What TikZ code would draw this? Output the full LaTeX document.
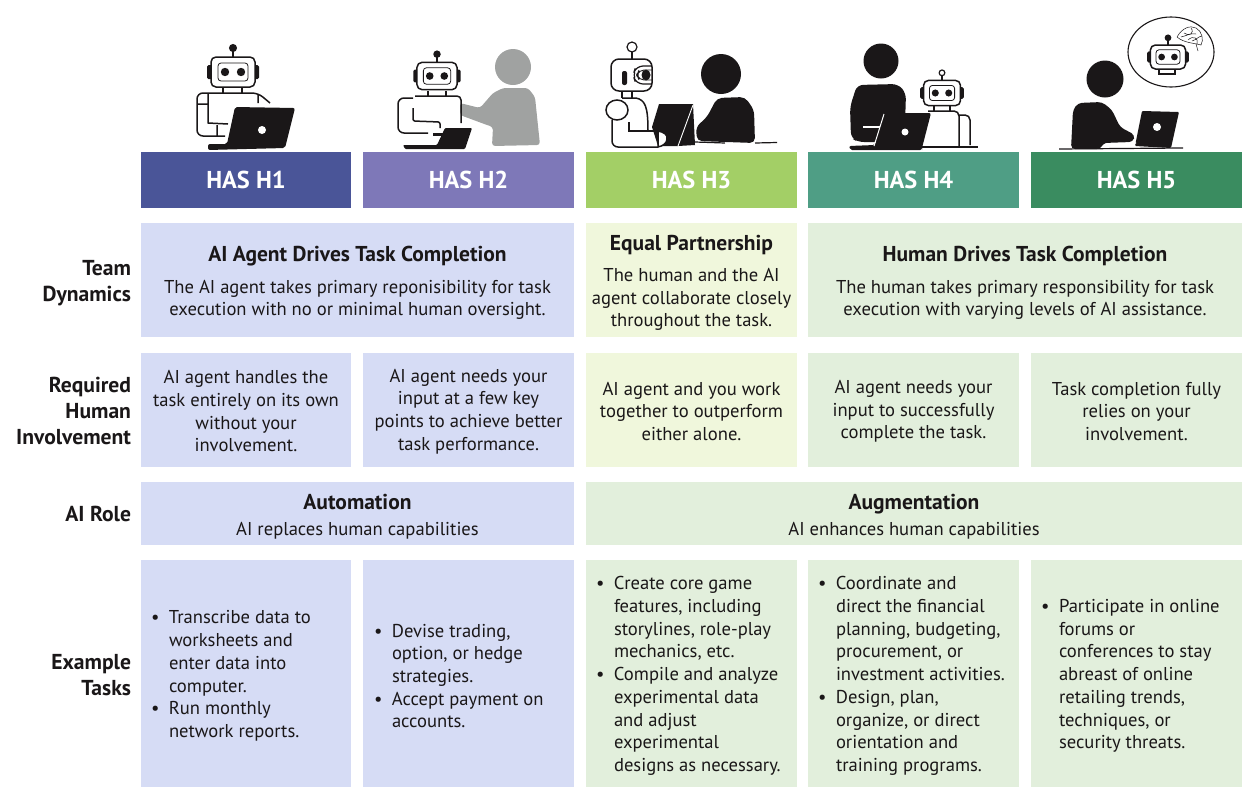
\documentclass[tikz,border=0pt]{standalone}
\usepackage{fontspec}
\setmainfont{PT Sans}
\usetikzlibrary{positioning}
\definecolor{hone}{HTML}{4A5598}
\definecolor{htwo}{HTML}{7E78B8}
\definecolor{hthree}{HTML}{A3CF66}
\definecolor{hfour}{HTML}{4F9E85}
\definecolor{hfive}{HTML}{3A8C60}
\definecolor{lavcell}{HTML}{D6DCF5}
\definecolor{limecell}{HTML}{F0F7DC}
\definecolor{greencell}{HTML}{E2EFDC}
\definecolor{ink}{HTML}{1A1718}
\definecolor{humangray}{HTML}{A0A2A1}
\tikzset{
    every node/.style={inner sep=0pt,outer sep=0pt,text=ink},
    box/.style={minimum width=#1,align=center,font=\fontsize{18.6}{22.7}\selectfont},
    hasbox/.style={minimum width=211,minimum height=56,fill=#1,text=white,
        font=\fontsize{24.4}{26}\selectfont\bfseries},
    rowname/.style={anchor=east,align=right,font=\fontsize{21.6}{26}\selectfont\bfseries},
    tasktext/.style={align=left,yshift=-2.5pt,font=\fontsize{18.6}{22.7}\selectfont},
    robot/.style={draw=ink,line width=1.5,fill=white,line join=round},
    robot head/.pic={
        \draw[ink,line width=1.5] (0,-15) -- (0,-21);
        \fill[ink,rounded corners=1.5] (-26,-7) rectangle (-20,7);
        \fill[ink,rounded corners=1.5] (20,-7) rectangle (26,7);
        \draw[robot,rounded corners=5] (-22,-15) rectangle (22,15);
        \draw[ink,line width=.8,rounded corners=3] (-15,-9) rectangle (15,9);
        \fill[ink] (-8,0) circle (4.2) (8,0) circle (4.2);
        \draw[ink,line width=1.2,fill=#1] (0,-24) circle (3.4);
    },
}
\newcommand{\bul}{\makebox[18pt][l]{\textbullet}}
\newcommand{\hang}{\hspace*{18pt}}
\newcommand{\hd}[1]{\rule{0pt}{21.5pt}{\fontsize{21.5}{24}\selectfont\bfseries #1}}
\newcommand{\nudge}{\rule{0pt}{16pt}}

\begin{document}
\begin{tikzpicture}[x=1pt,y=-1pt]
        \useasboundingbox (0,0) rectangle (1260,804);

        \node[hasbox=hone,minimum width=210] (hasone) at (246,180) {HAS H1};
        \node[hasbox=htwo] (hastwo) at (468.5,180) {HAS H2};
        \node[hasbox=hthree] (hasthree) at (691.5,180) {HAS H3};
        \node[hasbox=hfour] (hasfour) at (913.5,180) {HAS H4};
        \node[hasbox=hfive] (hasfive) at (1136.5,180) {HAS H5};

        \node[box=433,minimum height=114,fill=lavcell] (dynauto) at (357.5,280)
            {\hd{AI Agent Drives Task Completion}\\[9pt]The AI agent takes primary reponisibility for task\\execution with no or minimal human oversight.};
        \node[box=211,minimum height=114,fill=limecell] (dynequal) at (691.5,280)
            {\hd{Equal Partnership}\\[8pt]The human and the AI\\agent collaborate closely\\throughout the task.};
        \node[box=434,minimum height=114,fill=greencell] (dynhuman) at (1025,280)
            {\hd{Human Drives Task Completion}\\[9pt]The human takes primary responsibility for task\\execution with varying levels of AI assistance.};

        \node[box=210,minimum height=114,fill=lavcell] (involveone) at (246,410)
            {\nudge AI agent handles the\\task entirely on its own\\without your\\involvement.};
        \node[box=211,minimum height=114,fill=lavcell] (involvetwo) at (468.5,410)
            {\nudge AI agent needs your\\input at a few key\\points to achieve better\\task performance.};
        \node[box=211,minimum height=114,fill=limecell] (involvethree) at (691.5,410)
            {\nudge AI agent and you work\\together to outperform\\either alone.};
        \node[box=211,minimum height=114,fill=greencell] (involvefour) at (913.5,410)
            {\nudge AI agent needs your\\input to successfully\\complete the task.};
        \node[box=211,minimum height=114,fill=greencell] (involvefive) at (1136.5,410)
            {\nudge Task completion fully\\relies on your\\involvement.};

        \node[box=433,minimum height=63,fill=lavcell] (roleauto) at (357.5,513.5)
            {\hd{Automation}\\[4pt]AI replaces human capabilities};
        \node[box=656,minimum height=63,fill=greencell] (roleaug) at (914,513.5)
            {\hd{Augmentation}\\[4pt]AI enhances human capabilities};

        \node[box=210,minimum height=227,fill=lavcell] (taskone) at (246,673.5) {};
        \node[box=211,minimum height=227,fill=lavcell] (tasktwo) at (468.5,673.5) {};
        \node[box=211,minimum height=227,fill=greencell] (taskthree) at (691.5,673.5) {};
        \node[box=211,minimum height=227,fill=greencell] (taskfour) at (913.5,673.5) {};
        \node[box=211,minimum height=227,fill=greencell] (taskfive) at (1136.5,673.5) {};

        \node[tasktext,right=10pt of taskone.west] (listone)
            {\bul Transcribe data to\\\hang worksheets and\\\hang enter data into\\\hang computer.\\\bul Run monthly\\\hang network reports.};
        \node[tasktext,right=11pt of tasktwo.west] (listtwo)
            {\bul Devise trading,\\\hang option, or hedge\\\hang strategies.\\\bul Accept payment on\\\hang accounts.};
        \node[tasktext,right=10pt of taskthree.west] (listthree)
            {\bul Create core game\\\hang features, including\\\hang storylines, role-play\\\hang mechanics, etc.\\\bul Compile and analyze\\\hang experimental data\\\hang and adjust\\\hang experimental\\\hang designs as necessary.};
        \node[tasktext,right=10pt of taskfour.west] (listfour)
            {\bul Coordinate and\\\hang direct the financial\\\hang planning, budgeting,\\\hang procurement, or\\\hang investment activities.\\\bul Design, plan,\\\hang organize, or direct\\\hang orientation and\\\hang training programs.};
        \node[tasktext,right=10pt of taskfive.west] (listfive)
            {\bul Participate in online\\\hang forums or\\\hang conferences to stay\\\hang abreast of online\\\hang retailing trends,\\\hang techniques, or\\\hang security threats.};

        \node[rowname] (rowdyn) at (131,283) {Team\\Dynamics};
        \node[rowname] (rowinv) at (131,411) {Required\\Human\\Involvement};
        \node[rowname] (rowrole) at (131,514) {AI Role};
        \node[rowname] (rowtask) at (131,675) {Example\\Tasks};

        % HAS H1
        \draw[ink,line width=1.5,line join=round] (208,93) -- (208,123) -- (228,124) (217,125) -- (217,136) (197,104) -- (208,104) (258,94) -- (258,103);
        \draw[ink,line width=1.5,rounded corners=6] (225,136) -- (197,136) -- (197,93) -- (258,93) -- (270,103);
        \draw[ink,line width=1.5] (223,87) -- (223,93) (242,87) -- (242,93);
        \pic at (233,72) {robot head=ink};
        \fill[ink,rounded corners=2] (235,107) -- (295,108) -- (285,148) -- (208,150) -- (208,144) -- (227,144) -- cycle;
        \fill[white] (262,130) circle (4);

        % HAS H2
        \fill[humangray] (513,67) circle (18);
        \fill[humangray,rounded corners=3] (503,88) -- (528,88) -- (535,97) -- (540,145) -- (492,146) -- (493,127) -- (487,125) -- (460,115) -- (460,103) -- (480,108) -- (493,93) -- cycle;
        \draw[ink,line width=1.5] (428,91) -- (428,96) (446,91) -- (446,96);
        \draw[ink,line width=1.5,rounded corners=4] (461,123) -- (461,96) -- (415,96);
        \draw[ink,line width=1.5,rounded corners=6] (413,98) -- (398,98) -- (398,133) -- (428,133);
        \draw[ink,line width=1.5,rounded corners=2] (413,108) -- (413,121) -- (440,122) -- (440,128);
        \pic[scale=.91] at (437,76) {robot head=ink};
        \fill[ink,rounded corners=1] (445,128) -- (472,128) -- (465,149) -- (405,149) -- (403,145) -- (437,145) -- cycle;
        \fill[ink] (433,133) rectangle (445,135.5);

        % HAS H3
        \fill[ink] (721,74) circle (20);
        \fill[ink,rounded corners=5] (717,98) -- (745,97) -- (754,110) -- (755,143) -- (697,141) -- (696,127) -- (707,117) -- cycle;
        \draw[ink,line width=1.2] (695,142) -- (725,143) (755,143) -- (777,142.5);
        \draw[ink,line width=1.5] (622,91) -- (622,98) (632,91) -- (632,98);
        \draw[ink,line width=1.5,fill=white] (617,110) ellipse (11 and 10);
        \draw[ink,line width=1.5,rounded corners=6] (612,120) -- (612,147) -- (658,147);
        \draw[ink,line width=1.5] (622,98) -- (636,98) .. controls (645,100) and (648,106) .. (648,131);
        \fill[ink] (659,104) -- (693,104) -- (695,145) -- (678,146) -- (658,146) -- (652,127) -- cycle;
        \draw[white,line width=.9] (693,105) -- (678,146);
        \draw[ink,line width=1.5,fill=white] (658,131) .. controls (664,132) and (668,135) .. (667,139) .. controls (667,143) and (663,146) .. (658,147) -- cycle;
        \draw[ink,line width=1.5] (629,122) -- (629,131) -- (658,131);
        \draw[ink,line width=1.2] (632,47) circle (5);
        \draw[ink,line width=1.5] (632,52) -- (632,59);
        \draw[robot,rounded corners=8] (611,59) rectangle (652,91);
        \fill[ink,rounded corners=2] (622,71) rectangle (627,85);
        \draw[ink,line width=1.2,rounded corners=7] (652,66) -- (636,66) -- (633,75) -- (636,84) -- (652,84);
        \draw[ink,line width=.9,rounded corners=5] (652,70) -- (639,70) -- (637,75) -- (639,80) -- (652,80);
        \fill[ink] (646,75) ellipse (4.5 and 5.5);

        % HAS H4
        \fill[ink] (881,61) circle (17.5);
        \fill[ink,rounded corners=6] (857,85) -- (898,84) -- (906,93) -- (905,125) -- (895,142) -- (858,142) -- (851,138) -- (850,107) -- cycle;
        \draw[ink,line width=1.5,rounded corners=5] (959,147) -- (959,111) -- (928,111);
        \draw[ink,line width=1.5,rounded corners=5] (959,115) -- (970,115) -- (970,145);
        \draw[ink,line width=1.5] (934,106) -- (934,111) (950,106) -- (950,111);
        \draw[ink,line width=1.2] (922,147) -- (978,147);
        \pic[scale=.84] at (942,93) {robot head=white};
        \draw[white,line width=1.2] (863,127) -- (880,127);
        \fill[ink,rounded corners=2] (885,113) -- (931,113) -- (922,148) -- (922,150) -- (850,150) -- (849,146) -- (875,145) -- cycle;
        \draw[white,line width=1] (884,114) -- (874,146);
        \fill[white] (905,132) circle (3.5);

        % HAS H5
        \draw[ink,line width=1.1,fill=white] (1171,52) ellipse (43 and 35);
        \draw[ink,line width=1.4,fill=white] (1159,68) rectangle (1175,74);
        \pic[scale=.8] at (1168,57) {robot head=ink};
        \draw[ink,line width=.5] (1177,37) .. controls (1182,28) and (1190,25) .. (1196,28) .. controls (1202,31) and (1204,40) .. (1201,45) .. controls (1194,43) and (1184,43) .. (1177,37);
        \draw[ink,line width=.5] (1184,33) .. controls (1189,37) and (1195,33) .. (1191,28) (1188,40) .. controls (1193,35) and (1199,38) .. (1197,44) (1181,37) .. controls (1186,36) and (1190,33) .. (1196,34) (1192,41) .. controls (1196,40) and (1199,36) .. (1202,36) (1196,44) -- (1198,51);
        \fill[ink] (1105,79) circle (18.5);
        \fill[ink,rounded corners=4] (1078,103) -- (1102,102) -- (1112,110) -- (1120,127) -- (1135,135) -- (1133,142) -- (1103,143) -- (1101,149) -- (1071,149) -- (1073,110) -- cycle;
        \fill[ink,rounded corners=1] (1142,111) -- (1179,112) -- (1171,148) -- (1135,146) -- cycle;
        \draw[white,line width=1.2,rounded corners=2] (1102,148) -- (1104,144) -- (1136,143);
        \draw[ink,line width=1.2] (1059,149) -- (1183,148);
        \fill[white] (1157,127) circle (4);
\end{tikzpicture}
\end{document}
